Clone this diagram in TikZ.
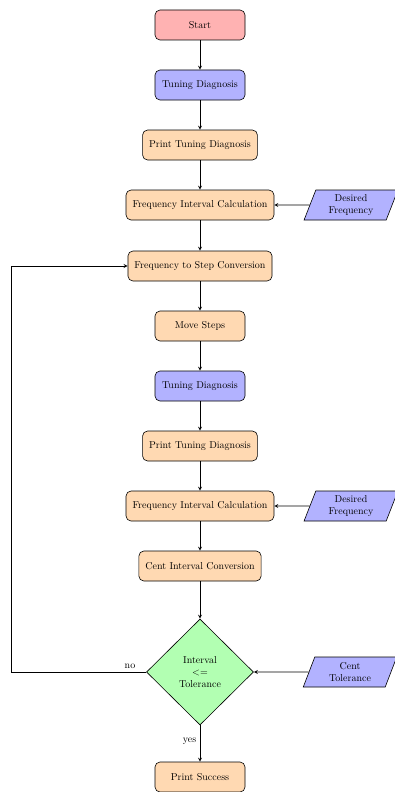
\documentclass[tikz,border=0pt]{standalone}
\usetikzlibrary{shapes.geometric,arrows}
\begin{document}
\begin{tikzpicture}[x = 1pt, y = -1pt, >= stealth,
        box/.style = {rectangle, rounded corners = 5pt, draw = black, semithick,
            minimum width = 90pt, minimum height = 30pt, inner xsep = 6.5pt, align = center},
        startbox/.style = {box, fill = red!30},
        tunebox/.style = {box, fill = blue!30},
        procbox/.style = {box, fill = orange!30},
        inbox/.style = {trapezium, trapezium left angle = 72, trapezium right angle = 108,
            trapezium stretches = true, draw = black, semithick, fill = blue!30,
            minimum width = 94pt, minimum height = 30pt, inner sep = 2pt, align = center},
        decbox/.style = {diamond, draw = black, semithick, fill = green!30,
            minimum width = 107pt, minimum height = 106pt, inner sep = 0pt, align = center},
        arrow/.style = {thick, ->}]
    \useasboundingbox (0,0) rectangle (394,792);
    % main column
    \node[startbox] (start) at (200,25) {Start};
    \node[tunebox] (tuneA) at (200,85) {Tuning Diagnosis};
    \node[procbox] (printA) at (200,145) {Print Tuning Diagnosis};
    \node[procbox] (freqA) at (200,205) {Frequency Interval Calculation};
    \node[procbox] (fstep) at (200,266) {Frequency to Step Conversion};
    \node[procbox] (move) at (200,326) {Move Steps};
    \node[tunebox] (tuneB) at (200,386) {Tuning Diagnosis};
    \node[procbox] (printB) at (200,446) {Print Tuning Diagnosis};
    \node[procbox] (freqB) at (200,506) {Frequency Interval Calculation};
    \node[procbox] (cent) at (200,566) {Cent Interval Conversion};
    \node[decbox] (dec) at (200,672) {Interval\\<=\\Tolerance};
    \node[procbox] (success) at (200,777) {Print Success};
    % inputs
    \node[inbox] (desA) at (351,205) {Desired\\Frequency};
    \node[inbox] (desB) at (351,506) {Desired\\Frequency};
    \node[inbox] (tol) at (350,672) {Cent\\Tolerance};
    \coordinate (loop) at (11,672);
    \draw[arrow] (start) -- (tuneA);
    \draw[arrow] (tuneA) -- (printA);
    \draw[arrow] (printA) -- (freqA);
    \draw[arrow] (freqA) -- (fstep);
    \draw[arrow] (fstep) -- (move);
    \draw[arrow] (move) -- (tuneB);
    \draw[arrow] (tuneB) -- (printB);
    \draw[arrow] (printB) -- (freqB);
    \draw[arrow] (freqB) -- (cent);
    \draw[arrow] (cent) -- (dec);
    \draw[arrow] (dec) -- node[left, pos = 0.45] {yes} (success);
    \draw[arrow] (desA) -- (freqA);
    \draw[arrow] (desB) -- (freqB);
    \draw[arrow] (tol) -- (dec);
    \draw[arrow] (dec.west) -- node[above, pos = 0.12] {no} (loop) |- (fstep.west);
\end{tikzpicture}
\end{document}
